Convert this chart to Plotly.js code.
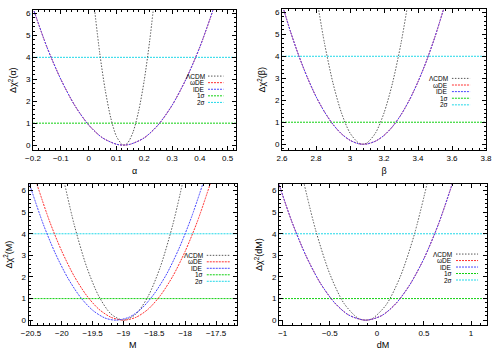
<!DOCTYPE html>
<html>
<head>
<meta charset="utf-8">
<script src="https://cdn.plot.ly/plotly-3.0.1.min.js"></script>
<style>
body { margin: 0; background: #fff; }
#gd { width: 500px; height: 350px; }
</style>
</head>
<body>
<div id="gd"></div>
<script>
"use strict";

/* legend names, in drawing order */
var names = ["\u039bCDM", "\u03c9DE", "IDE", "1\u03c3", "2\u03c3"];
var sigmaLevels = [1, 4];

/* alpha profile */
var alphaLcdmX = [0.02, 0.04, 0.06, 0.08, 0.1, 0.12, 0.127, 0.14, 0.16, 0.18, 0.2, 0.22, 0.235];
var alphaLcdmY = [6.34, 4.19, 2.49, 1.22, 0.40, 0.03, 0, 0.09, 0.60, 1.56, 2.95, 4.79, 6.46];
var alphaWdeX = [-0.2, -0.15, -0.1, -0.05, 0, 0.05, 0.1, 0.125, 0.15, 0.2, 0.25, 0.3, 0.35, 0.4, 0.45];
var alphaWdeY = [6.25, 4.47, 3.00, 1.81, 0.92, 0.33, 0.04, 0, 0.04, 0.33, 0.92, 1.81, 3.00, 4.47, 6.25];
var alphaIdeX = [-0.2, -0.15, -0.1, -0.05, 0, 0.05, 0.1, 0.125, 0.15, 0.2, 0.25, 0.3, 0.35, 0.4, 0.45];
var alphaIdeY = [6.25, 4.47, 3.00, 1.81, 0.92, 0.33, 0.04, 0, 0.04, 0.33, 0.92, 1.81, 3.00, 4.47, 6.25];

/* beta profile */
var betaLcdmX = [2.81, 2.85, 2.9, 2.95, 3.0, 3.05, 3.075, 3.1, 3.15, 3.2, 3.25, 3.3, 3.34];
var betaLcdmY = [6.37, 4.59, 2.78, 1.42, 0.51, 0.06, 0, 0.06, 0.51, 1.42, 2.78, 4.59, 6.37];
var betaWdeX = [2.6, 2.65, 2.7, 2.75, 2.8, 2.85, 2.9, 2.95, 3.0, 3.05, 3.08, 3.1, 3.15, 3.2, 3.25, 3.3, 3.35, 3.4, 3.45, 3.5, 3.56];
var betaWdeY = [6.38, 5.12, 4.00, 3.02, 2.17, 1.47, 0.90, 0.47, 0.18, 0.02, 0, 0.01, 0.14, 0.40, 0.80, 1.34, 2.02, 2.84, 3.79, 4.89, 6.38];
var betaIdeX = [2.6, 2.65, 2.7, 2.75, 2.8, 2.85, 2.9, 2.95, 3.0, 3.05, 3.08, 3.1, 3.15, 3.2, 3.25, 3.3, 3.35, 3.4, 3.45, 3.5, 3.56];
var betaIdeY = [6.38, 5.12, 4.00, 3.02, 2.17, 1.47, 0.90, 0.47, 0.18, 0.02, 0, 0.01, 0.14, 0.40, 0.80, 1.34, 2.02, 2.84, 3.79, 4.89, 6.38];

/* M profile */
var mLcdmX = [-19.96, -19.8, -19.6, -19.4, -19.2, -19.0, -18.8, -18.6, -18.4, -18.2, -18.04];
var mLcdmY = [6.38, 4.43, 2.49, 1.11, 0.28, 0, 0.28, 1.11, 2.49, 4.43, 6.38];
var mWdeX = [-20.45, -20.2, -20.0, -19.8, -19.6, -19.4, -19.2, -19.0, -18.8, -18.6, -18.4, -18.2, -18.0, -17.8, -17.58];
var mWdeY = [6.70, 4.59, 3.19, 2.04, 1.15, 0.51, 0.13, 0, 0.13, 0.51, 1.15, 2.04, 3.19, 4.59, 6.43];
var mIdeX = [-20.55, -20.3, -20.1, -19.9, -19.7, -19.5, -19.3, -19.12, -18.9, -18.7, -18.5, -18.3, -18.1, -17.9, -17.7];
var mIdeY = [6.52, 4.44, 3.06, 1.94, 1.07, 0.46, 0.10, 0, 0.15, 0.56, 1.23, 2.14, 3.32, 4.75, 6.43];

/* dM profile */
var dmLcdmX = [-0.78, -0.65, -0.5, -0.35, -0.2, -0.12, -0.05, 0.1, 0.25, 0.4, 0.54];
var dmLcdmY = [6.44, 4.16, 2.14, 0.78, 0.09, 0, 0.07, 0.72, 2.03, 4.00, 6.44];
var dmWdeX = [-1.05, -0.9, -0.75, -0.6, -0.45, -0.3, -0.12, 0.05, 0.2, 0.35, 0.5, 0.65, 0.82];
var dmWdeY = [6.42, 4.52, 2.95, 1.71, 0.81, 0.24, 0, 0.21, 0.76, 1.64, 2.85, 4.40, 6.56];
var dmIdeX = [-1.05, -0.9, -0.75, -0.6, -0.45, -0.3, -0.12, 0.05, 0.2, 0.35, 0.5, 0.65, 0.82];
var dmIdeY = [6.42, 4.52, 2.95, 1.71, 0.81, 0.24, 0, 0.21, 0.76, 1.64, 2.85, 4.40, 6.56];

/* styles: LCDM, wDE, IDE, 1 sigma, 2 sigma */
var styles = [
	{color: "#585858", dash: "1.5px,1.5px", width: 1},
	{color: "#ff3030", dash: "2px,1px", width: 1},
	{color: "#4848ff", dash: "2px,1px", width: 1},
	{color: "#10d010", dash: "2px,1px", width: 1},
	{color: "#20d8e8", dash: "2px,1px", width: 1}
];

var font = "Liberation Sans, Arial, sans-serif";

var panels = [
	{ n: "", xdom: [0.066, 0.472], ydom: [0.571, 0.971], xr: [-0.2, 0.53], yr: [-0.23, 6.15],
	  dtick: 0.1, minor: 0.02, xtitle: "\u03b1", ytitle: "\u0394\u03c7<sup>2</sup>(\u03b1)",
	  key: {text: 0.85, line: [0.862, 0.938], top: 0.529, step: 0.047},
	  curves: [[alphaLcdmX, alphaLcdmY], [alphaWdeX, alphaWdeY], [alphaIdeX, alphaIdeY]] },
	{ n: "2", xdom: [0.564, 0.972], ydom: [0.571, 0.973], xr: [2.6, 3.8], yr: [-0.27, 6.13],
	  dtick: 0.2, minor: 0.04, xtitle: "\u03b2", ytitle: "\u0394\u03c7<sup>2</sup>(\u03b2)",
	  key: {text: 0.821, line: [0.833, 0.922], top: 0.51, step: 0.047},
	  curves: [[betaLcdmX, betaLcdmY], [betaWdeX, betaWdeY], [betaIdeX, betaIdeY]] },
	{ n: "3", xdom: [0.057, 0.474], ydom: [0.071, 0.474], xr: [-20.54, -17.16], yr: [-0.23, 6.3],
	  dtick: 0.5, minor: 0.1, xtitle: "M", ytitle: "\u0394\u03c7<sup>2</sup>(M)",
	  key: {text: 0.842, line: [0.855, 0.965], top: 0.495, step: 0.046},
	  curves: [[mLcdmX, mLcdmY], [mWdeX, mWdeY], [mIdeX, mIdeY]] },
	{ n: "4", xdom: [0.558, 0.974], ydom: [0.071, 0.474], xr: [-1.04, 1.17], yr: [-0.23, 6.3],
	  dtick: 0.5, minor: 0.1, xtitle: "dM", ytitle: "\u0394\u03c7<sup>2</sup>(dM)",
	  key: {text: 0.837, line: [0.851, 0.957], top: 0.504, step: 0.046},
	  curves: [[dmLcdmX, dmLcdmY], [dmWdeX, dmWdeY], [dmIdeX, dmIdeY]] }
];

var data = [];
var layout = {
	width: 500,
	height: 350,
	margin: {l: 0, r: 0, t: 0, b: 0},
	paper_bgcolor: "#fff",
	plot_bgcolor: "#fff",
	showlegend: false,
	font: {family: font, size: 8, color: "#000"},
	annotations: [],
	shapes: []
};

function axisBase()
{
	return {
		showgrid: false,
		zeroline: false,
		showline: true,
		linecolor: "#000",
		linewidth: 1,
		mirror: "allticks",
		ticks: "inside",
		ticklen: 4,
		tickcolor: "#000",
		tickfont: {family: font, size: 8, color: "#000"},
		automargin: false
	};
}

panels.forEach(function (p) {
	var xa = "x" + p.n, ya = "y" + p.n;

	/* sigma levels, drawn first so the curves sit on top */
	sigmaLevels.forEach(function (s, j) {
		data.push({
			x: p.xr, y: [s, s],
			xaxis: xa, yaxis: ya,
			type: "scatter", mode: "lines",
			line: styles[3 + j],
			name: names[3 + j]
		});
	});

	/* profile curves */
	p.curves.forEach(function (c, i) {
		data.push({
			x: c[0], y: c[1],
			xaxis: xa, yaxis: ya,
			type: "scatter", mode: "lines",
			line: Object.assign({shape: "spline", smoothing: 0.8}, styles[i]),
			name: names[i]
		});
	});

	var xax = axisBase();
	xax.domain = p.xdom;
	xax.range = p.xr;
	xax.anchor = ya;
	xax.dtick = p.dtick;
	xax.tick0 = 0;
	xax.minor = {ticks: "inside", ticklen: 2, dtick: p.minor, tickcolor: "#000"};
	xax.title = {text: p.xtitle, font: {family: font, size: 9}, standoff: 5};

	var yax = axisBase();
	yax.domain = p.ydom;
	yax.range = p.yr;
	yax.anchor = xa;
	yax.dtick = 1;
	yax.tick0 = 0;
	yax.minor = {ticks: "inside", ticklen: 2, dtick: 0.2, tickcolor: "#000"};
	yax.title = {text: p.ytitle, font: {family: font, size: 9}, standoff: 7};

	layout["xaxis" + p.n] = xax;
	layout["yaxis" + p.n] = yax;

	/* gnuplot style key: text right aligned, sample line on its right */
	names.forEach(function (nm, i) {
		var yk = p.key.top - i * p.key.step;
		layout.annotations.push({
			xref: xa + " domain", yref: ya + " domain",
			x: p.key.text, y: yk,
			xanchor: "right", yanchor: "middle",
			text: nm, showarrow: false, borderpad: 0,
			font: {family: font, size: 6.5, color: "#000"}
		});
		layout.shapes.push({
			type: "line",
			xref: xa + " domain", yref: ya + " domain",
			x0: p.key.line[0], x1: p.key.line[1], y0: yk, y1: yk,
			line: styles[i]
		});
	});
});

var gd = document.getElementById("gd");
Plotly.newPlot(gd, data, layout, {staticPlot: true});
</script>
</body>
</html>
